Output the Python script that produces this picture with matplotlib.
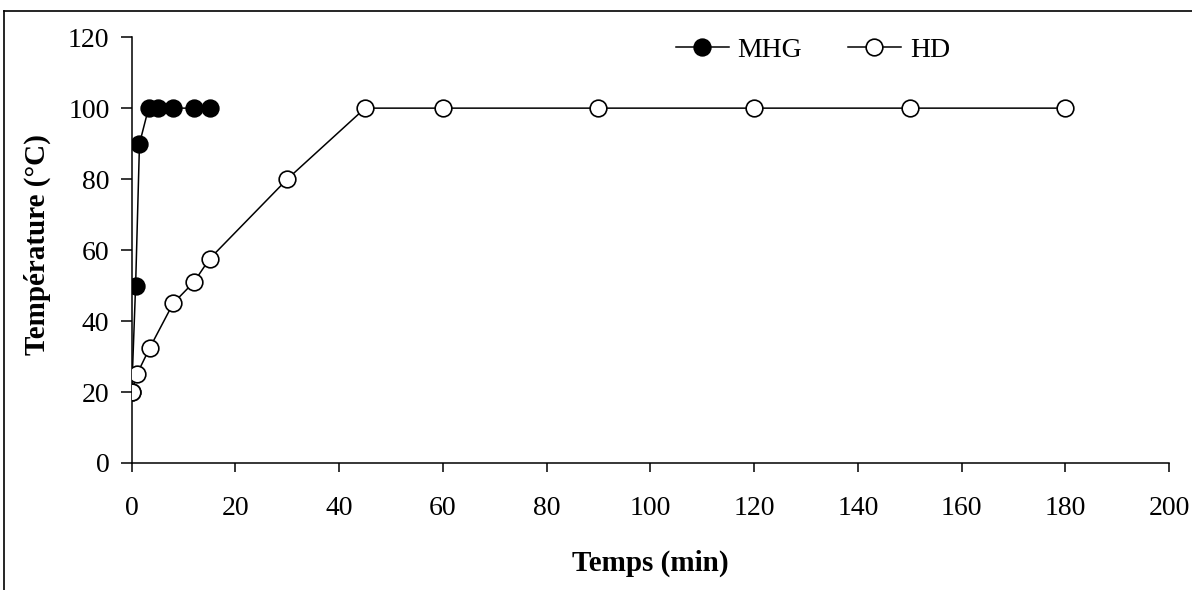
import matplotlib
matplotlib.use("Agg")
import matplotlib.pyplot as plt
from matplotlib.lines import Line2D

# données
mhg_t = [0, 0.75, 1.5, 3.25, 5, 8, 12, 15]
mhg_temp = [20, 50, 90, 100, 100, 100, 100, 100]

hd_t = [0, 1, 3.5, 8, 12, 15, 30, 45, 60, 90, 120, 150, 180]
hd_temp = [20, 25, 32.5, 45, 51, 57.5, 80, 100, 100, 100, 100, 100, 100]

x_ticks = list(range(0, 201, 20))
y_ticks = list(range(0, 121, 20))

plt.rcParams['font.family'] = ['Liberation Serif', 'DejaVu Serif']

fig = plt.figure(figsize=(11.92, 5.9), dpi=100)
ax = fig.add_axes([0.1105, 0.2153, 0.8702, 0.7217])

ax.plot(mhg_t, mhg_temp, '-o', color='black', lw=1.1, ms=12,
        mfc='black', mec='black', mew=1.2, label='MHG', zorder=2)
ax.plot(hd_t, hd_temp, '-o', color='black', lw=1.1, ms=12,
        mfc='white', mec='black', mew=1.2, label='HD', zorder=3)

ax.set_xlim(0, 200)
ax.set_ylim(0, 120)
ax.set_xticks(x_ticks)
ax.set_yticks(y_ticks)
ax.tick_params(axis='both', labelsize=20, color='black', width=1.1, direction='out')
ax.tick_params(axis='y', length=8, pad=8)
ax.tick_params(axis='x', length=6.5, pad=17)

for side in ['top', 'right']:
    ax.spines[side].set_visible(False)
for side in ['left', 'bottom']:
    ax.spines[side].set_linewidth(1.1)

ax.set_xlabel('Temps (min)', fontsize=21, fontweight='bold', va='center')
ax.set_ylabel('Température (°C)', fontsize=21, fontweight='bold', va='center')
ax.xaxis.set_label_coords(0.5, -0.235)
ax.yaxis.set_label_coords(-0.0913, 0.512)

ax.legend(loc='center', ncol=2, frameon=False, fontsize=20,
          bbox_to_anchor=(0.682, 0.915), bbox_transform=fig.transFigure,
          handlelength=1.9, handletextpad=0.32, columnspacing=1.65)

# cadre extérieur (haut et gauche)
fig.add_artist(Line2D([0.0034, 1.0], [0.982, 0.982], color='black', lw=1.2,
                      transform=fig.transFigure))
fig.add_artist(Line2D([0.0034, 0.0034], [0.0, 0.982], color='black', lw=1.2,
                      transform=fig.transFigure))

fig.savefig('out.png', dpi=100)
